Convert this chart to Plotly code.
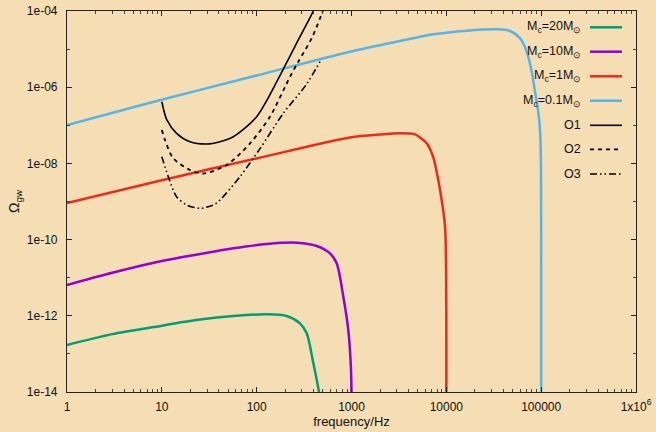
import plotly.graph_objects as go

# ---- data ----
f_m20 = [1, 3, 10, 16, 25.3, 56.7, 128, 207, 286, 337, 396, 454, 470]
om_m20 = [1.71e-13, 3.3e-13, 5.46e-13, 6.75e-13, 8.03e-13, 9.84e-13, 1.09e-12, 9.88e-13, 6.35e-13,
          3.47e-13, 5.66e-14, 1.0e-14, 5e-15]

f_m10 = [1, 3, 10, 25.3, 56.7, 128, 264, 430, 593, 698, 820, 925, 981, 1000, 1000]
om_m10 = [6.45e-12, 1.35e-11, 2.75e-11, 4.19e-11, 5.91e-11, 7.67e-11, 8.3e-11, 6.79e-11, 4.37e-11,
          2.39e-11, 3.17e-12, 4.24e-13, 5.66e-14, 1.0e-14, 1e-15]

f_m1 = [1, 10, 100, 964, 2000, 3250, 4680, 5280, 6210, 7240, 8580, 9690, 9930, 10000, 10000]
om_m1 = [9.1e-10, 3.62e-9, 1.35e-8, 4.79e-8, 5.74e-8, 6.17e-8, 5.8e-8, 4.75e-8, 3.37e-8, 1.5e-8,
         2.0e-9, 2.18e-10, 1.95e-11, 1e-13, 1e-15]

f_m01 = [1, 7.5, 100, 964, 3250, 7290, 16400, 34000, 47000, 59900, 70400, 79500, 86100, 92700,
         97300, 99600, 100000, 100000]
om_m01 = [1.02e-7, 3.92e-7, 2.03e-6, 8.55e-6, 1.63e-5, 2.44e-5, 3.04e-5, 3.31e-5, 2.99e-5, 1.92e-5,
          8.55e-6, 2.55e-6, 7.62e-7, 2.5e-7, 7.5e-8, 6.7e-9, 1e-11, 1e-15]

f_o1 = [10, 11.3, 14.3, 19.8, 29.7, 41.0, 56.7, 100, 191, 286, 396, 420]
om_o1 = [4.16e-7, 1.38e-7, 6.17e-8, 3.71e-8, 3.23e-8, 3.71e-8, 5.02e-8, 1.68e-7, 3.0e-6, 2.11e-5, 1e-4, 1.5e-4]

f_o2 = [10, 10.8, 13.2, 19.8, 27.4, 48.3, 85.2, 138, 225, 275, 380, 497, 520]
om_o2 = [7.53e-8, 4.11e-8, 1.36e-8, 6.71e-9, 5.43e-9, 9.08e-9, 3.37e-8, 1.68e-7, 1.89e-6, 4.67e-6,
         1.92e-5, 1e-4, 1.6e-4]

f_o3 = [10, 11.7, 14.3, 18.3, 25.3, 34.9, 41.0, 66.7, 108, 191, 331, 483]
om_o3 = [1.5e-8, 4.48e-9, 1.34e-9, 8.1e-10, 6.63e-10, 8.1e-10, 1.09e-9, 4.48e-9, 2.4e-8, 2.07e-7,
         1.14e-6, 5.5e-6]

series = [
    ("M<sub>c</sub>=20M<sub>⊙</sub>", f_m20, om_m20, "#009e73", 2.5, "solid"),
    ("M<sub>c</sub>=10M<sub>⊙</sub>", f_m10, om_m10, "#9400d3", 2.5, "solid"),
    ("M<sub>c</sub>=1M<sub>⊙</sub>", f_m1, om_m1, "#ee2a1b", 2.5, "solid"),
    ("M<sub>c</sub>=0.1M<sub>⊙</sub>", f_m01, om_m01, "#56b4e9", 2.5, "solid"),
    ("O1", f_o1, om_o1, "#000000", 1.6, "solid"),
    ("O2", f_o2, om_o2, "#000000", 1.8, "4px,4px"),
    ("O3", f_o3, om_o3, "#000000", 1.6, "7px,3px,1.5px,3px,1.5px,3px"),
]

x_ticks = [1, 10, 100, 1000, 10000, 100000, 1000000]
x_ticktext = ["1", "10", "100", "1000", "10000", "100000", "1x10<sup>6</sup>"]
y_ticks = [1e-14, 1e-12, 1e-10, 1e-8, 1e-6, 1e-4]
y_ticktext = ["1e-14", "1e-12", "1e-10", "1e-08", "1e-06", "1e-04"]
y_minor = [1e-13, 1e-11, 1e-9, 1e-7, 1e-5]
x_minor = [m * 10 ** d for d in range(6) for m in range(2, 10)]

fig = go.Figure()
for name, fx, fy, col, w, dash in series:
    fig.add_trace(go.Scatter(x=fx, y=fy, mode="lines", name=name,
                             line=dict(color=col, width=w, dash=dash, shape="spline", smoothing=0.8),
                             showlegend=False, cliponaxis=True))

# manual gnuplot-style legend (text right, sample line after it)
L, R, T, B = 67, 20, 11, 40
W, H = 656, 432
pw, ph = W - L - R, H - T - B
FAM = "Liberation Sans, Arial, sans-serif"
rows_py = [27.3, 51.7, 76.3, 100.7, 125.3, 149.3, 174.0]
for (name, fx, fy, col, w, dash), py in zip(series, rows_py):
    yp = 1 - (py - T) / ph
    fig.add_annotation(x=(583 - L) / pw, y=yp, xref="paper", yref="paper", text=name,
                       showarrow=False, xanchor="right", yanchor="middle",
                       font=dict(family=FAM, size=12.5, color="#111"))
    fig.add_shape(type="line", xref="paper", yref="paper",
                  x0=(590 - L) / pw, x1=(622 - L) / pw, y0=yp, y1=yp,
                  line=dict(color=col, width=w, dash=dash))

font = dict(family=FAM, size=12, color="#111")
fig.update_layout(
    width=W, height=H, margin=dict(l=L, r=R, t=T, b=B, autoexpand=False),
    paper_bgcolor="#f5deb3", plot_bgcolor="#f5deb3", font=font,
    xaxis=dict(type="log", range=[0, 6], tickvals=x_ticks, ticktext=x_ticktext, automargin=False,
               ticks="inside", ticklen=5, tickcolor="#222", showline=True, linecolor="#222",
               linewidth=1.2, mirror="ticks", showgrid=False, zeroline=False,
               minor=dict(tickvals=x_minor, ticks="inside", ticklen=3, tickcolor="#444"),
               title=dict(text="frequency/Hz", font=dict(size=13), standoff=4),
               ticklabelstandoff=3),
    yaxis=dict(type="log", range=[-14, -4], tickvals=y_ticks, ticktext=y_ticktext, automargin=False,
               ticks="inside", ticklen=5, tickcolor="#222", showline=True, linecolor="#222",
               linewidth=1.2, mirror="ticks", showgrid=False, zeroline=False,
               minor=dict(tickvals=y_minor, ticks="inside", ticklen=3, tickcolor="#444"),
               title=dict(text="Ω<sub>gw</sub>", font=dict(size=14), standoff=3),
               ticklabelstandoff=6),
)
fig.write_html("out.html")
